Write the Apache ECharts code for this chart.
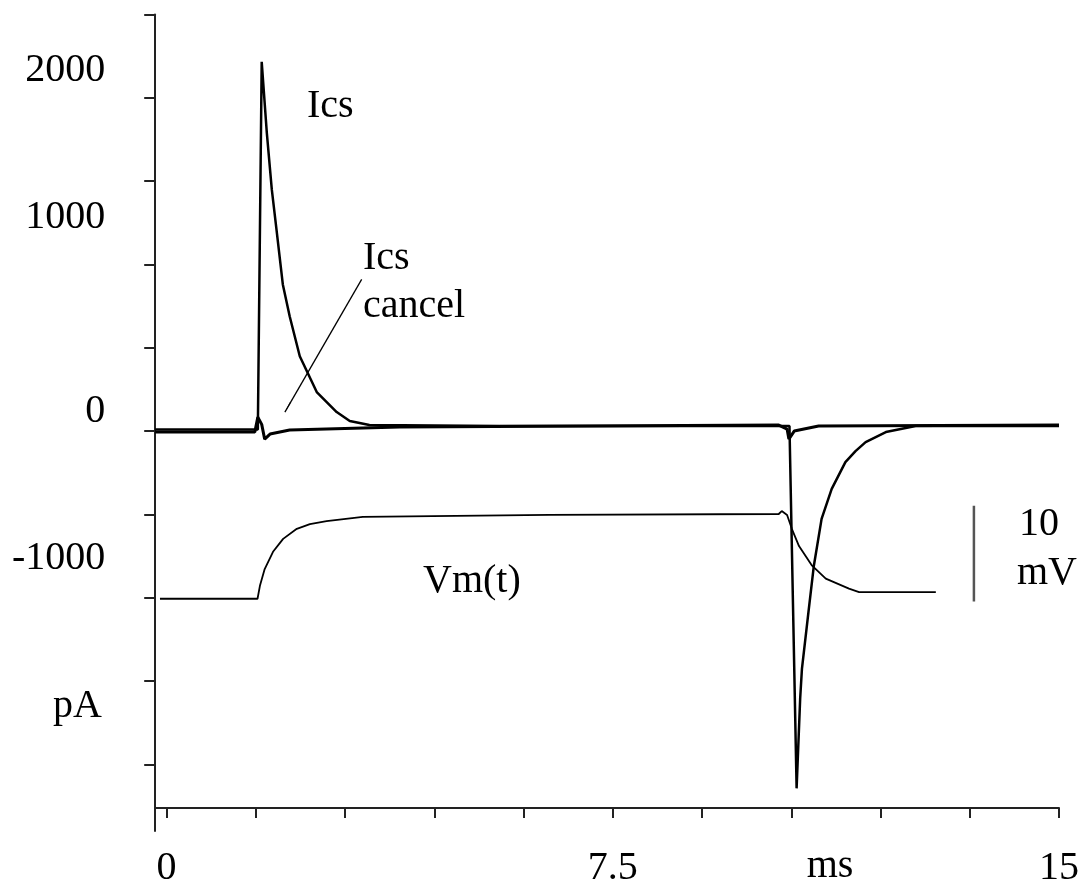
<!DOCTYPE html>
<html>
<head>
<meta charset="utf-8">
<title>Ics / Vm(t)</title>
<script src="https://cdn.jsdelivr.net/npm/echarts@6.0.0/dist/echarts.min.js"></script>
<style>
html,body{margin:0;padding:0;background:#fff}
#chart{width:1082px;height:888px}
</style>
</head>
<body>
<div id="chart"></div>
<script>
// time in ms, currents in pA
const icsTime = [-0.19, 1.535, 1.60, 1.686, 1.77, 1.854, 1.955, 2.07, 2.24, 2.525, 2.86, 3.08, 3.41, 5.6, 10.47,
  10.59, 10.65, 10.68, 10.79, 10.88, 11.01, 11.18, 11.41, 11.58, 11.75, 12.09, 12.59, 15.0]
const icsValue = [10, 10, 2216, 1790, 1449, 1192, 880, 689, 449, 234, 114, 60, 36, 30, 30,
  -2144, -1605, -1425, -1084, -808, -527, -347, -186, -120, -66, -6, 30, 30]

const cancelTime = [-0.19, 1.485, 1.535, 1.60, 1.65, 1.74, 2.07, 3.92, 10.29, 10.43, 10.46, 10.55, 10.96, 15.0]
const cancelValue = [-5, -5, 84, 40, -48, -18, 6, 24, 36, 12, -48, 0, 30, 36]

// membrane potential in mV, drawn on its own hidden scale
const vmTime = [-0.11, 1.53, 1.57, 1.65, 1.79, 1.96, 2.19, 2.41, 2.69, 3.30, 6.43, 10.29, 10.34, 10.43,
  10.51, 10.63, 10.85, 11.08, 11.47, 11.64, 12.93]
const vmValue = [-80, -80, -78.65, -76.9, -75.1, -73.75, -72.7, -72.2, -71.9, -71.45, -71.25, -71.15, -70.85, -71.25,
  -72.7, -74.5, -76.55, -77.9, -78.95, -79.3, -79.3]

const scaleBarTime = [13.57, 13.57]
const scaleBarValue = [-80.3, -70.3]

const xTickValues = [0, 1.5, 3, 4.5, 6, 7.5, 9, 10.5, 12, 13.5, 15]
const xLabelValues = [0, 7.5, 15]
const yTickValues = [2500, 2000, 1500, 1000, 500, 0, -500, -1000, -1500, -2000]
const yLabelValues = [2000, 1000, 0, -1000]

const arrowFrom = [3.28, 910]
const arrowTo = [1.99, 114]

function pairs(xs, ys){
  return xs.map((x, i) => [x, ys[i]])
}

const serif = '"Liberation Serif", "DejaVu Serif", serif'
const labelLift = [27, 47, 20, 39]
const yRich = {}
yLabelValues.forEach((v, i) => {
  yRich['y' + i] = {fontSize: 40, fontFamily: serif, color: '#000', padding: [0, 0, labelLift[i] * 2, 0]}
})

function txt(text, x, y, align){
  return {
    type: 'text', x: x, y: y, silent: true,
    style: {text: text, font: '40px ' + serif, fill: '#000',
      align: align || 'left', textAlign: align || 'left', verticalAlign: 'middle', textVerticalAlign: 'middle'}
  }
}

const chart = echarts.init(document.getElementById('chart'))
chart.setOption({
  animation: false,
  backgroundColor: '#fff',
  grid: {left: 155.2, right: 21.5, top: 14.5, bottom: 55.2},
  xAxis: {
    type: 'value', min: -0.19, max: 15, offset: -23,
    axisLine: {onZero: false, lineStyle: {color: '#222', width: 2}},
    axisTick: {customValues: xTickValues, length: 10, lineStyle: {color: '#222', width: 2}},
    splitLine: {show: false},
    axisLabel: {customValues: xLabelValues, margin: 40, fontSize: 40, fontFamily: serif, color: '#000'}
  },
  yAxis: [
    {
      type: 'value', min: -2400, max: 2500,
      axisLine: {show: true, onZero: false, lineStyle: {color: '#222', width: 2}},
      axisTick: {show: true, customValues: yTickValues, length: 11, lineStyle: {color: '#222', width: 2}},
      splitLine: {show: false},
      axisLabel: {
        customValues: yLabelValues, margin: 50,
        formatter: v => '{y' + yLabelValues.indexOf(v) + '|' + v + '}',
        rich: yRich
      }
    },
    {type: 'value', min: -104.25, max: -19.0, show: false}
  ],
  graphic: [
    txt('Ics', 307, 106),
    txt('Ics', 363, 258),
    txt('cancel', 363, 306),
    txt('Vm(t)', 423, 581),
    txt('10', 1019, 524),
    txt('mV', 1017, 573),
    txt('pA', 53, 706),
    txt('ms', 830, 866, 'center')
  ],
  series: [
    {
      name: 'Ics cancel', type: 'line', data: pairs(cancelTime, cancelValue),
      symbol: 'none', lineStyle: {color: '#000', width: 3},
      markLine: {
        silent: true, symbol: ['none', 'arrow'], symbolSize: [1, 12],
        label: {show: false},
        lineStyle: {color: '#000', width: 1.3, type: 'solid'},
        data: [[{coord: arrowFrom}, {coord: arrowTo}]]
      }
    },
    {
      name: 'Ics', type: 'line', data: pairs(icsTime, icsValue),
      symbol: 'none', lineStyle: {color: '#000', width: 2.5}
    },
    {
      name: 'Vm(t)', type: 'line', yAxisIndex: 1, data: pairs(vmTime, vmValue),
      symbol: 'none', lineStyle: {color: '#000', width: 1.8}
    },
    {
      name: '10 mV', type: 'line', yAxisIndex: 1, data: pairs(scaleBarTime, scaleBarValue),
      symbol: 'none', lineStyle: {color: '#555', width: 2.5}
    }
  ]
})
</script>
</body>
</html>
